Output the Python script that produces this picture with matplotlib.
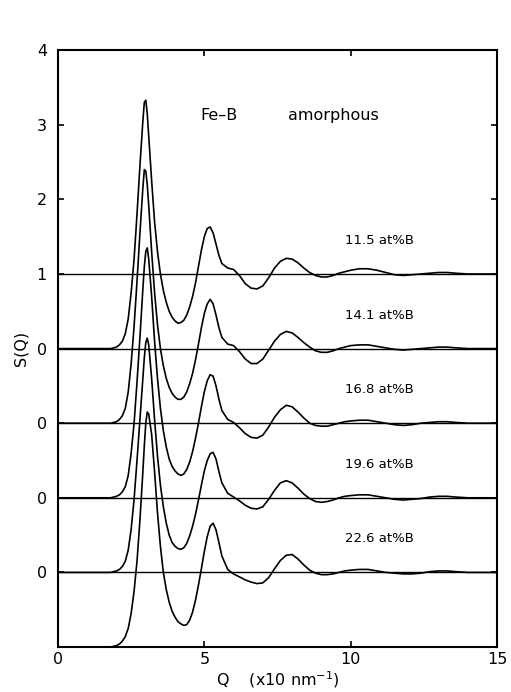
import numpy as np
import matplotlib
matplotlib.use("Agg")
from matplotlib import pyplot as plt

# Q grid (x10 nm^-1), shared by all curves
q = [0, 1.0, 1.8, 2.0, 2.1, 2.2, 2.3, 2.4, 2.5, 2.6, 2.7, 2.8, 2.9, 2.95, 3.0, 3.05,
     3.1, 3.2, 3.3, 3.4, 3.5, 3.6, 3.7, 3.8, 3.9, 4.0, 4.1, 4.2, 4.3, 4.4, 4.5, 4.6,
     4.7, 4.8, 4.9, 5.0, 5.1, 5.2, 5.3, 5.4, 5.5, 5.6,
     5.8, 6.0, 6.2, 6.4, 6.6, 6.8, 7.0, 7.2, 7.4, 7.6, 7.8, 8.0, 8.2, 8.4, 8.6, 8.8,
     9.0, 9.2, 9.4, 9.6, 9.8, 10.0,
     10.3, 10.6, 10.9, 11.2, 11.5, 11.8, 12.1, 12.4, 12.7, 13.0, 13.3, 13.6,
     14.0, 14.5, 15.0]

labels = ["11.5 at%B", "14.1 at%B", "16.8 at%B", "19.6 at%B", "22.6 at%B"]

s_115 = [0, 0, 0, 0.02, 0.05, 0.1, 0.2, 0.4, 0.75, 1.2, 1.8, 2.45, 3.05, 3.3, 3.33, 3.15,
         2.85, 2.25, 1.7, 1.3, 1.0, 0.78, 0.62, 0.5, 0.42, 0.37, 0.34, 0.35, 0.38, 0.45, 0.56, 0.7,
         0.88, 1.1, 1.32, 1.5, 1.61, 1.63, 1.55, 1.4, 1.25, 1.14,
         1.08, 1.06, 0.98, 0.87, 0.81, 0.8, 0.84, 0.95, 1.08, 1.17, 1.21, 1.2, 1.15, 1.08, 1.02, 0.98,
         0.96, 0.96, 0.98, 1.01, 1.03, 1.05,
         1.07, 1.07, 1.05, 1.02, 0.99, 0.98, 0.99, 1.0, 1.01, 1.02, 1.02, 1.01,
         1.0, 1.0, 1.0]

s_141 = [0, 0, 0, 0.02, 0.05, 0.1, 0.2, 0.42, 0.8, 1.3, 1.9, 2.55, 3.15, 3.4, 3.38, 3.2,
         2.92, 2.3, 1.75, 1.32, 1.0, 0.77, 0.6, 0.48, 0.4, 0.35, 0.32, 0.32, 0.35, 0.42, 0.53, 0.67,
         0.85, 1.06, 1.28, 1.47, 1.6, 1.66, 1.6, 1.45, 1.28, 1.15,
         1.06, 1.04, 0.96, 0.86, 0.8, 0.8, 0.86, 0.98, 1.1, 1.19, 1.23, 1.21, 1.15, 1.08, 1.02, 0.97,
         0.95, 0.95, 0.97, 1.0, 1.02, 1.04,
         1.05, 1.05, 1.03, 1.01, 0.99, 0.98, 0.99, 1.0, 1.01, 1.02, 1.02, 1.01,
         1.0, 1.0, 1.0]

s_168 = [0, 0, 0, 0.02, 0.04, 0.08, 0.15, 0.3, 0.6, 1.0, 1.55, 2.15, 2.8, 3.1, 3.3, 3.35,
         3.2, 2.7, 2.1, 1.6, 1.2, 0.9, 0.68, 0.52, 0.42, 0.36, 0.32, 0.3, 0.32, 0.38, 0.48, 0.62,
         0.8, 1.0, 1.22, 1.42, 1.57, 1.65, 1.63, 1.5, 1.32, 1.17,
         1.05, 1.01, 0.94, 0.86, 0.81, 0.8, 0.84, 0.95, 1.08, 1.18, 1.24, 1.22, 1.15, 1.07, 1.0, 0.97,
         0.96, 0.96, 0.98, 1.0, 1.02, 1.03,
         1.04, 1.04, 1.02, 1.0, 0.98, 0.97, 0.98, 1.0, 1.01, 1.02, 1.02, 1.01,
         1.0, 1.0, 1.0]

s_196 = [0, 0, 0, 0.02, 0.04, 0.08, 0.15, 0.3, 0.58, 0.98, 1.5, 2.05, 2.6, 2.88, 3.08, 3.14,
         3.05, 2.6, 2.05, 1.56, 1.17, 0.88, 0.66, 0.5, 0.4, 0.35, 0.32, 0.31, 0.33, 0.39, 0.49, 0.62,
         0.78, 0.97, 1.17, 1.36, 1.5, 1.59, 1.61, 1.52, 1.35, 1.2,
         1.06, 1.01, 0.96, 0.9, 0.86, 0.85, 0.88, 0.98, 1.1, 1.2, 1.23, 1.2, 1.13, 1.05, 0.99, 0.95,
         0.94, 0.95, 0.97, 1.0, 1.02, 1.03,
         1.04, 1.04, 1.02, 1.0, 0.98, 0.97, 0.98, 0.99, 1.01, 1.02, 1.02, 1.01,
         1.0, 1.0, 1.0]

s_226 = [0, 0, 0, 0.02, 0.04, 0.08, 0.14, 0.25, 0.45, 0.75, 1.15, 1.7, 2.35, 2.7, 3.0, 3.15,
         3.12, 2.85, 2.35, 1.8, 1.35, 1.0, 0.77, 0.6, 0.48, 0.4, 0.34, 0.31, 0.29, 0.3, 0.36, 0.47,
         0.63, 0.83, 1.05, 1.28, 1.48, 1.62, 1.66, 1.57, 1.4, 1.22,
         1.04, 0.98, 0.94, 0.9, 0.87, 0.85, 0.86, 0.93, 1.05, 1.16, 1.23, 1.24, 1.18, 1.1, 1.03, 0.99,
         0.97, 0.97, 0.98, 1.0, 1.02, 1.03,
         1.04, 1.04, 1.02, 1.0, 0.99, 0.98, 0.98, 0.99, 1.01, 1.02, 1.02, 1.01,
         1.0, 1.0, 1.0]

curves = [s_115, s_141, s_168, s_196, s_226]

fig = plt.figure(figsize=(5.11, 6.92), dpi=100)
ax = fig.add_axes([0.1135, 0.065, 0.859, 0.8625])

for k, s in enumerate(curves):
    y = np.array(s) - k
    ax.plot(q, y, color="black", lw=1.2)
    ax.axhline(1 - k, color="black", lw=1.0)
    ax.text(9.8, 1.45 - k, labels[k], fontsize=9.5, ha="left", va="center")

ax.text(4.85, 3.13, "Fe\u2013B", fontsize=11.5, ha="left", va="center")
ax.text(7.85, 3.13, "amorphous", fontsize=11.5, ha="left", va="center")

ax.set_xlim(0, 15)
ax.set_ylim(-4, 4)
ax.set_xticks([0, 5, 10, 15])
ax.set_xticklabels(["0", "5", "10", "15"])
ax.set_yticks([4, 3, 2, 1, 0, -1, -2, -3])
ax.set_yticklabels(["4", "3", "2", "1", "0", "0", "0", "0"])
ax.tick_params(axis="both", labelsize=11.5, direction="in", length=4, width=1.2,
               top=True, right=True)
ax.tick_params(axis="y", pad=8)
for sp in ax.spines.values():
    sp.set_linewidth(1.5)

ax.set_ylabel("S(Q)", fontsize=11.5, labelpad=6)
ax.set_xlabel("Q    (x10 nm$^{-1}$)", fontsize=11.5, labelpad=2)

fig.savefig("out.png", dpi=100)
